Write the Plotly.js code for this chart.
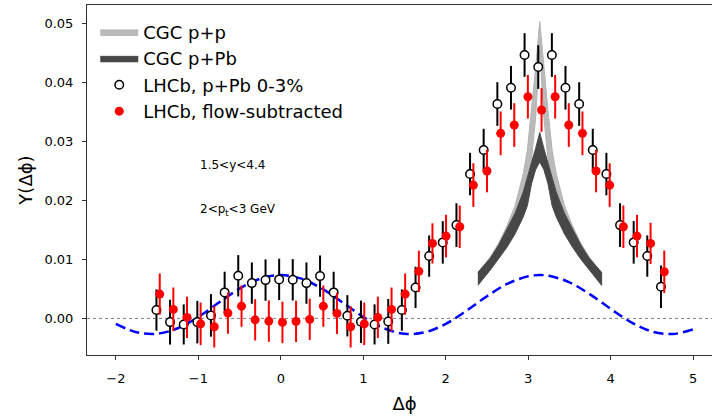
<!DOCTYPE html>
<html>
<head>
<meta charset="utf-8">
<script src="https://cdn.plot.ly/plotly-3.0.1.min.js"></script>
<style>
html,body{margin:0;padding:0;overflow:hidden;background:#fff;}
#chart{width:740px;height:416px;}
</style>
</head>
<body>
<div id="chart"></div>
<script>
// LHCb p+Pb 0-3% (open black) : x positions and Y values
const lhcbX = [-1.508,-1.343,-1.177,-1.012,-0.847,-0.681,-0.516,-0.351,-0.185,-0.020,0.145,0.311,0.476,0.641,0.807,0.972,1.137,1.303,1.468,1.634,1.799,1.964,2.130,2.295,2.460,2.626,2.791,2.956,3.122,3.287,3.452,3.618,3.783,3.948,4.114,4.279,4.444,4.610];
const lhcbY = [0.00141,-0.00063,-0.00102,-0.00063,0.00051,0.00441,0.00722,0.00598,0.00649,0.00661,0.00654,0.00598,0.00717,0.00441,0.00044,-0.00058,-0.00102,-0.00051,0.00141,0.00525,0.01056,0.01288,0.01581,0.02446,0.02853,0.03632,0.03908,0.04463,0.04259,0.04463,0.03908,0.03632,0.02853,0.02446,0.01581,0.01288,0.01056,0.00536];
const lhcbErr = [0.0035,0.0038,0.0034,0.0036,0.0036,0.0035,0.0035,0.0035,0.0035,0.0035,0.0035,0.0035,0.0035,0.0035,0.0035,0.0036,0.0034,0.0038,0.0035,0.0035,0.0035,0.0036,0.0037,0.0036,0.0036,0.0037,0.0037,0.0037,0.0037,0.0037,0.0037,0.0037,0.0036,0.0036,0.0037,0.0036,0.0035,0.0036];

// LHCb flow-subtracted (filled red)
const flowX = [-1.468,-1.303,-1.137,-0.972,-0.807,-0.641,-0.476,-0.311,-0.145,0.020,0.185,0.351,0.516,0.681,0.847,1.012,1.177,1.343,1.508,1.674,1.839,2.004,2.170,2.335,2.500,2.666,2.831,2.996,3.162,3.327,3.492,3.658,3.823,3.988,4.154,4.319,4.484,4.650];
const flowY = [0.00412,0.00153,0.00017,-0.00092,-0.00142,0.00090,0.00208,-0.00024,-0.00046,-0.00068,-0.00051,-0.00017,0.00208,0.00085,-0.00142,-0.00092,0.00017,0.00153,0.00412,0.00797,0.01271,0.01395,0.01553,0.02259,0.02497,0.03136,0.03276,0.03756,0.03531,0.03756,0.03276,0.03136,0.02497,0.02259,0.01553,0.01395,0.01271,0.00790];
const flowErr = [0.0035,0.0037,0.0035,0.0036,0.0035,0.0035,0.0035,0.0035,0.0035,0.0035,0.0035,0.0035,0.0035,0.0035,0.0035,0.0036,0.0035,0.0037,0.0035,0.0035,0.0034,0.0036,0.0036,0.0037,0.0036,0.0037,0.0037,0.0037,0.0037,0.0037,0.0037,0.0037,0.0036,0.0037,0.0036,0.0036,0.0035,0.0036];

// CGC bands
const bandX = [2.39,2.54,2.64,2.74,2.84,2.94,2.99,3.04,3.09,3.14,3.19,3.24,3.29,3.34,3.44,3.54,3.64,3.74,3.89];
const ppUpper = [0.0077,0.0104,0.0127,0.0156,0.0191,0.0245,0.0285,0.0352,0.0425,0.0503,0.0425,0.0352,0.0285,0.0245,0.0191,0.0156,0.0127,0.0104,0.0077];
const ppLower = [0.0058,0.0084,0.0103,0.0125,0.0152,0.0190,0.0220,0.0270,0.0340,0.0455,0.0340,0.0270,0.0220,0.0190,0.0152,0.0125,0.0103,0.0084,0.0058];
const pPbUpper = [0.0078,0.0102,0.0124,0.0150,0.0178,0.0214,0.0241,0.0264,0.0288,0.0315,0.0288,0.0264,0.0241,0.0214,0.0178,0.0150,0.0124,0.0102,0.0078];
const pPbLower = [0.0056,0.0082,0.0100,0.0120,0.0143,0.0172,0.0191,0.0228,0.0252,0.0265,0.0252,0.0228,0.0191,0.0172,0.0143,0.0120,0.0100,0.0082,0.0056];

// blue dashed curve
const curveX = [-2.0,-1.75,-1.5,-1.25,-1.0,-0.75,-0.5,-0.25,0,0.25,0.5,0.75,1.0,1.25,1.5,1.75,2.0,2.25,2.5,2.75,3.0,3.14,3.25,3.5,3.75,4.0,4.25,4.5,4.75,5.0];
const curveY = [-0.00093,-0.00234,-0.00261,-0.00167,0.00026,0.00269,0.00504,0.00673,0.00734,0.00673,0.00504,0.00269,0.00026,-0.00167,-0.00261,-0.00234,-0.00093,0.00129,0.00376,0.00588,0.00714,0.00734,0.00722,0.00611,0.00407,0.00161,-0.00067,-0.00222,-0.00265,-0.00186];

const xTicks = [-2,-1,0,1,2,3,4,5];
const yTicks = [0,0.01,0.02,0.03,0.04,0.05];

function band(x, up, lo){
  return {x: x.concat(x.slice().reverse()), y: up.concat(lo.slice().reverse())};
}
const pp = band(bandX, ppUpper, ppLower);
const pPb = band(bandX, pPbUpper, pPbLower);

const font = "DejaVu Sans, sans-serif";

const traces = [
  {x: curveX, y: curveY, mode:'lines', line:{color:'#0000ff', width:2.5, dash:'10px,5px', shape:'spline'}, showlegend:false, hoverinfo:'skip'},
  {x: pp.x, y: pp.y, mode:'lines', fill:'toself', fillcolor:'#bababa', line:{color:'#b3b3b3', width:1}, name:'CGC p+p'},
  {x: pPb.x, y: pPb.y, mode:'lines', fill:'toself', fillcolor:'#474747', line:{color:'#4a4a4a', width:1}, name:'CGC p+Pb'},
  {x: lhcbX, y: lhcbY, mode:'markers', name:'LHCb, p+Pb 0-3%',
   marker:{symbol:'circle', size:8.5, color:'#ffffff', line:{color:'#000000', width:1.5}},
   error_y:{type:'data', array:lhcbErr, visible:true, color:'#000000', thickness:2, width:0}},
  {x: flowX, y: flowY, mode:'markers', name:'LHCb, flow-subtracted',
   marker:{symbol:'circle', size:9, color:'#ff0000'},
   error_y:{type:'data', array:flowErr, visible:true, color:'#ff0000', thickness:2, width:0}}
];

const axisCommon = {
  showline:true, linecolor:'#333333', linewidth:1, mirror:true,
  ticks:'outside', ticklen:4, tickwidth:1, tickcolor:'#333333',
  showgrid:false, zeroline:false, automargin:false,
  tickfont:{family:font, size:13, color:'#000000'}
};

const layout = {
  width:740, height:416,
  margin:{l:87, r:18, t:5, b:61},
  paper_bgcolor:'#ffffff', plot_bgcolor:'#ffffff',
  font:{family:font, color:'#000000'},
  xaxis: Object.assign({}, axisCommon, {
    range:[-2.35, 5.35], tickvals:xTicks, ticklabelstandoff:7,
    title:{text:'Δϕ', font:{family:font, size:18}, standoff:12}
  }),
  yaxis: Object.assign({}, axisCommon, {
    range:[-0.0062, 0.0531], tickvals:yTicks, tickformat:'.2f', ticklabelstandoff:6,
    title:{text:'Y(Δϕ)', font:{family:font, size:18}, standoff:7}
  }),
  shapes:[{type:'line', xref:'paper', x0:0, x1:1, yref:'y', y0:0, y1:0, layer:'below',
           line:{color:'#808080', width:1, dash:'dot'}}],
  annotations:[
    {text:'1.5&lt;y&lt;4.4', x:-1.0, y:0.026, xref:'x', yref:'y', xanchor:'left', yanchor:'middle', showarrow:false, font:{family:font, size:12}},
    {text:'2&lt;p<sub>t</sub>&lt;3 GeV', x:-1.0, y:0.0184, xref:'x', yref:'y', xanchor:'left', yanchor:'middle', showarrow:false, font:{family:font, size:12}}
  ],
  legend:{x:0.013, y:0.975, xanchor:'left', yanchor:'top', bgcolor:'rgba(0,0,0,0)',
          font:{family:font, size:18}, itemwidth:38, tracegroupgap:0},
  showlegend:true
};

Plotly.newPlot('chart', traces, layout, {displayModeBar:false, staticPlot:true});
</script>
</body>
</html>
